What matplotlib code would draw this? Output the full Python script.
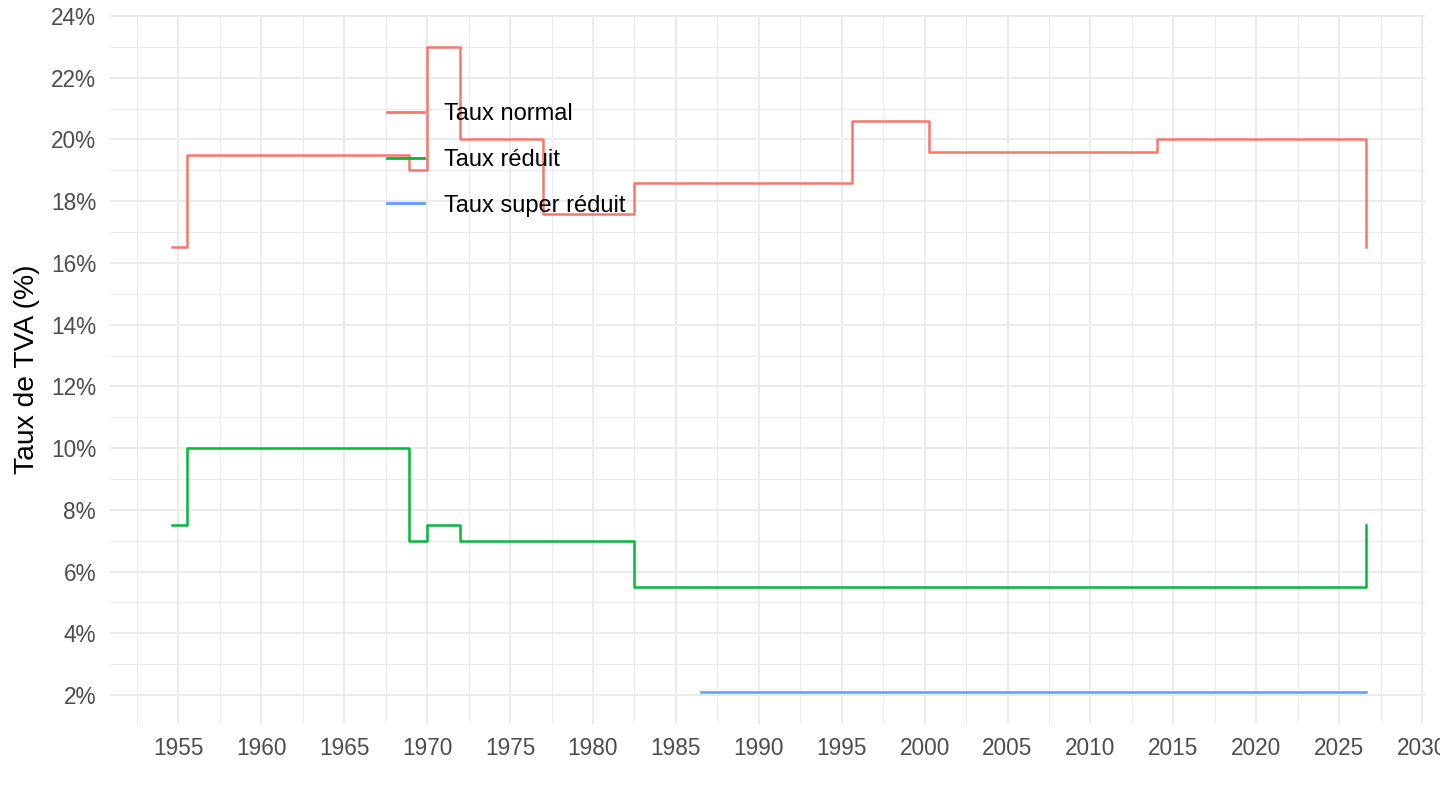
import matplotlib
matplotlib.use("Agg")
import matplotlib.pyplot as plt
from matplotlib.ticker import MultipleLocator, FuncFormatter

plt.rcParams['font.family'] = ['Liberation Sans', 'DejaVu Sans']

# Data
dates_normal = [1954.6, 1955.5, 1968.9, 1970.0, 1972.0, 1977.0, 1982.5, 1995.6, 2000.25, 2014.0, 2026.6]
taux_normal = [16.5, 19.5, 19.0, 23.0, 20.0, 17.6, 18.6, 20.6, 19.6, 20.0, 16.5]

dates_reduit = [1954.6, 1955.5, 1968.9, 1970.0, 1972.0, 1982.5, 2026.6]
taux_reduit = [7.5, 10.0, 7.0, 7.5, 7.0, 5.5, 7.5]

dates_super = [1986.5, 2026.6]
taux_super = [2.1, 2.1]

series_labels = ["Taux normal", "Taux réduit", "Taux super réduit"]
series_colors = ["#F8766D", "#00BA38", "#619CFF"]

y_ticks = list(range(2, 25, 2))
x_ticks = list(range(1955, 2031, 5))

fig = plt.figure(figsize=(14.4, 8.1), dpi=100)
ax = fig.add_axes([110/1440, 1 - 724.3/810, (1425-110)/1440, (724.3-14.5)/810])

for d, v, lab, col in zip([dates_normal, dates_reduit, dates_super],
                          [taux_normal, taux_reduit, taux_super],
                          series_labels, series_colors):
    ax.plot(d, v, drawstyle='steps-post', color=col, lw=1.8, label=lab)

ax.set_xlim(1950.87, 2030.18)
ax.set_ylim(1.05, 24.05)
ax.set_xticks(x_ticks)
ax.set_yticks(y_ticks)
ax.xaxis.set_minor_locator(MultipleLocator(2.5))
ax.yaxis.set_minor_locator(MultipleLocator(1))
ax.yaxis.set_major_formatter(FuncFormatter(lambda v, p: f"{int(round(v))}%"))

ax.grid(which='major', color='#EBEBEB', lw=1.4)
ax.grid(which='minor', color='#EBEBEB', lw=0.7)
ax.set_axisbelow(True)
for s in ax.spines.values():
    s.set_visible(False)
ax.tick_params(which='both', length=0)
ax.tick_params(axis='both', labelsize=16.3, labelcolor='#4D4D4D')
ax.tick_params(axis='y', pad=10)
ax.tick_params(axis='x', pad=9)

ax.set_ylabel("Taux de TVA (%)", fontsize=20.3, color='black', labelpad=8)

leg = ax.legend(loc='upper left', bbox_to_anchor=(387/1440, 1 - 103.5/810),
                bbox_transform=fig.transFigure, frameon=False, fontsize=17,
                handlelength=1.57, handletextpad=0.85, labelspacing=1.0,
                borderpad=0.0, borderaxespad=0.0)
for line in leg.get_lines():
    line.set_linewidth(2.0)

fig.savefig("out.png", dpi=100, facecolor='white')
